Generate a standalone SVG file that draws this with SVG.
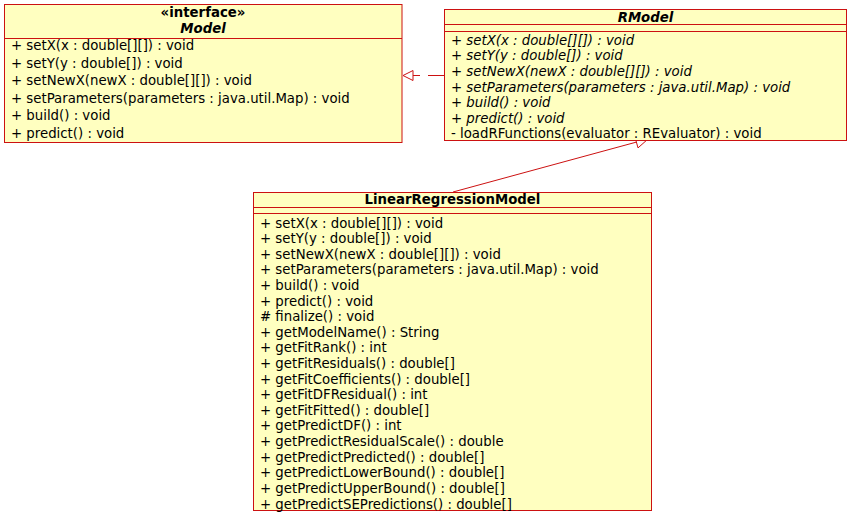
<svg xmlns="http://www.w3.org/2000/svg" width="850" height="514" viewBox="0 0 850 514">
<style>
.box{fill:#ffffc0;stroke:#cc1111;stroke-width:1}
.sep{stroke:#cc1111;stroke-width:1}
.edge{fill:none;stroke:#cc1111;stroke-width:1}
.head{fill:#ffffff;stroke:#cc1111;stroke-width:1}
text{font-family:"DejaVu Sans","Liberation Sans",sans-serif;font-size:13.3px;fill:#000}
.t{font-weight:bold;text-anchor:middle}
.ti{font-weight:bold;font-style:italic;text-anchor:middle}
.it{font-style:italic}
</style>
<g id="connectors">
<path class="edge" d="M444,75.5 L413,75.5" stroke-dasharray="16,8"/>
<polygon class="head" points="403,75.5 413,70.5 413,80.5"/>
<path class="edge" d="M453,192 L636.4,142.1"/>
<polygon class="head" points="648,139 638,147.9 634.8,136.3"/>
</g>
<g id="Model">
<rect class="box" x="4.5" y="4.5" width="397.5" height="138"/>
<line class="sep" x1="4.5" y1="38.5" x2="402" y2="38.5"/>
<text class="t" x="203" y="16.5">«interface»</text>
<text class="ti" x="203" y="33">Model</text>
<text x="11" y="50">+ setX(x : double[][]) : void</text>
<text x="11" y="67.5">+ setY(y : double[]) : void</text>
<text x="11" y="85">+ setNewX(newX : double[][]) : void</text>
<text x="11" y="102.5">+ setParameters(parameters : java.util.Map) : void</text>
<text x="11" y="120">+ build() : void</text>
<text x="11" y="137.5">+ predict() : void</text>
</g>
<g id="RModel">
<rect class="box" x="444.5" y="9.5" width="402" height="131"/>
<line class="sep" x1="444.5" y1="24.5" x2="846.5" y2="24.5"/>
<line class="sep" x1="444.5" y1="31.5" x2="846.5" y2="31.5"/>
<text class="ti" x="645.5" y="21.5">RModel</text>
<text class="it" x="451" y="44.5">+ setX(x : double[][]) : void</text>
<text class="it" x="451" y="60.2">+ setY(y : double[]) : void</text>
<text class="it" x="451" y="75.8">+ setNewX(newX : double[][]) : void</text>
<text class="it" x="451" y="91.5">+ setParameters(parameters : java.util.Map) : void</text>
<text class="it" x="451" y="107.1">+ build() : void</text>
<text class="it" x="451" y="122.8">+ predict() : void</text>
<text x="451" y="138.4">- loadRFunctions(evaluator : REvaluator) : void</text>
</g>
<g id="LinearRegressionModel">
<rect class="box" x="253.5" y="192.5" width="398" height="318"/>
<line class="sep" x1="253.5" y1="207.5" x2="651.5" y2="207.5"/>
<line class="sep" x1="253.5" y1="213.5" x2="651.5" y2="213.5"/>
<text class="t" x="452.5" y="204">LinearRegressionModel</text>
<text x="260" y="227.5">+ setX(x : double[][]) : void</text>
<text x="260" y="243.1">+ setY(y : double[]) : void</text>
<text x="260" y="258.7">+ setNewX(newX : double[][]) : void</text>
<text x="260" y="274.3">+ setParameters(parameters : java.util.Map) : void</text>
<text x="260" y="289.9">+ build() : void</text>
<text x="260" y="305.5">+ predict() : void</text>
<text x="260" y="321.2"># finalize() : void</text>
<text x="260" y="336.8">+ getModelName() : String</text>
<text x="260" y="352.4">+ getFitRank() : int</text>
<text x="260" y="368">+ getFitResiduals() : double[]</text>
<text x="260" y="383.6">+ getFitCoefficients() : double[]</text>
<text x="260" y="399.2">+ getFitDFResidual() : int</text>
<text x="260" y="414.8">+ getFitFitted() : double[]</text>
<text x="260" y="430.4">+ getPredictDF() : int</text>
<text x="260" y="446">+ getPredictResidualScale() : double</text>
<text x="260" y="461.7">+ getPredictPredicted() : double[]</text>
<text x="260" y="477.3">+ getPredictLowerBound() : double[]</text>
<text x="260" y="492.9">+ getPredictUpperBound() : double[]</text>
<text x="260" y="508.5">+ getPredictSEPredictions() : double[]</text>
</g>
</svg>
